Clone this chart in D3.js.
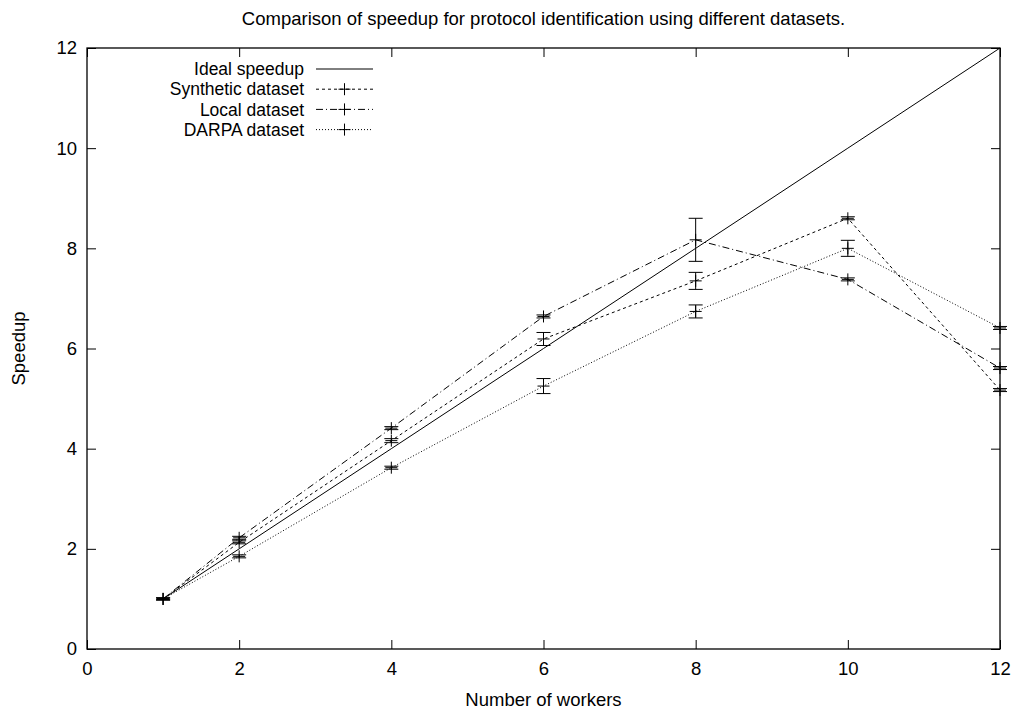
<!DOCTYPE html>
<html>
<head>
<meta charset="utf-8">
<script src="https://cdn.jsdelivr.net/npm/d3@7"></script>
<style>
  body { margin: 0; background: #fff; }
  svg text { font-family: "Liberation Sans", Arial, sans-serif; fill: #000; }
</style>
</head>
<body>
<div id="chart"></div>
<script>
// Values
const workers = [1, 2, 4, 6, 8, 10, 12]
const ideal = [1, 2, 4, 6, 8, 10, 12]
const synthetic = [1.0, 2.13, 4.16, 6.19, 7.35, 8.6, 5.17]
const syntheticErr = [0.02, 0.03, 0.04, 0.13, 0.17, 0.03, 0.03]
const local = [1.0, 2.22, 4.41, 6.64, 8.17, 7.38, 5.61]
const localErr = [0.02, 0.03, 0.03, 0.03, 0.43, 0.03, 0.03]
const darpa = [1.0, 1.85, 3.62, 5.25, 6.74, 8.0, 6.41]
const darpaErr = [0.02, 0.03, 0.03, 0.15, 0.13, 0.16, 0.03]
const xTicks = [0, 2, 4, 6, 8, 10, 12]
const yTicks = [0, 2, 4, 6, 8, 10, 12]

const width = 1016
const height = 711
const margin = { top: 48, right: 15, bottom: 62, left: 87 }
const fontSize = '18.5px'

const svg = d3.select('#chart').append('svg')
  .attr('width', width)
  .attr('height', height)

const x = d3.scaleLinear().domain([0, 12]).range([margin.left, width - margin.right - 1])
const y = d3.scaleLinear().domain([0, 12]).range([height - margin.bottom, margin.top])

const series = [
  { name: 'Ideal speedup', values: ideal, err: null, dash: null },
  { name: 'Synthetic dataset', values: synthetic, err: syntheticErr, dash: '3,3' },
  { name: 'Local dataset', values: local, err: localErr, dash: '7,3,1,3' },
  { name: 'DARPA dataset', values: darpa, err: darpaErr, dash: '1,2' }
]

// Axes with inward ticks (mirrored on top and right)
const tick = 9
svg.append('g')
  .attr('transform', `translate(0,${y(0)})`)
  .call(d3.axisBottom(x).tickValues(xTicks).tickSize(-tick).tickPadding(13))
  .call(g => g.select('.domain').remove())
svg.append('g')
  .attr('transform', `translate(0,${y(12)})`)
  .call(d3.axisTop(x).tickValues(xTicks).tickSize(-tick).tickFormat(''))
  .call(g => g.select('.domain').remove())
svg.append('g')
  .attr('transform', `translate(${x(0)},0)`)
  .call(d3.axisLeft(y).tickValues(yTicks).tickSize(-tick).tickPadding(10))
  .call(g => g.select('.domain').remove())
svg.append('g')
  .attr('transform', `translate(${x(12)},0)`)
  .call(d3.axisRight(y).tickValues(yTicks).tickSize(-tick).tickFormat(''))
  .call(g => g.select('.domain').remove())

svg.selectAll('.tick line').attr('stroke', '#000')
svg.selectAll('.tick text').style('font-size', fontSize)

svg.append('rect')
  .attr('x', x(0)).attr('y', y(12))
  .attr('width', x(12) - x(0)).attr('height', y(0) - y(12))
  .attr('fill', 'none').attr('stroke', '#000').attr('stroke-width', 1.3)

// Lines, error bars and point markers
const line = d3.line()
  .x(d => x(d[0]))
  .y(d => y(d[1]))

const cap = 7
const mark = 6

series.forEach(s => {
  const pts = workers.map((w, i) => [w, s.values[i], s.err ? s.err[i] : 0])
  svg.append('path')
    .attr('d', line(pts))
    .attr('fill', 'none')
    .attr('stroke', '#000')
    .attr('stroke-width', 1)
    .attr('stroke-dasharray', s.dash)

  if (!s.err) return

  const g = svg.append('g').attr('stroke', '#000').attr('stroke-width', 1)
  pts.forEach(p => {
    const cx = x(p[0])
    g.append('line').attr('x1', cx).attr('x2', cx).attr('y1', y(p[1] - p[2])).attr('y2', y(p[1] + p[2]))
    g.append('line').attr('x1', cx - cap).attr('x2', cx + cap).attr('y1', y(p[1] - p[2])).attr('y2', y(p[1] - p[2]))
    g.append('line').attr('x1', cx - cap).attr('x2', cx + cap).attr('y1', y(p[1] + p[2])).attr('y2', y(p[1] + p[2]))
    // "+" marker
    g.append('line').attr('x1', cx - mark).attr('x2', cx + mark).attr('y1', y(p[1])).attr('y2', y(p[1]))
    g.append('line').attr('x1', cx).attr('x2', cx).attr('y1', y(p[1]) - mark).attr('y2', y(p[1]) + mark)
  })
})

// Legend (row pitch kept just above the text height so rows don't collide)
const legend = svg.append('g')
series.forEach((s, i) => {
  const ly = 69 + i * 20.2
  legend.append('text')
    .attr('x', 304).attr('y', ly)
    .attr('dy', '0.35em')
    .attr('text-anchor', 'end')
    .style('font-size', '17.5px')
    .text(s.name)
  legend.append('line')
    .attr('x1', 316).attr('x2', 373).attr('y1', ly).attr('y2', ly)
    .attr('stroke', '#000').attr('stroke-width', 1)
    .attr('stroke-dasharray', s.dash)
  if (s.err) {
    legend.append('line')
      .attr('x1', 344.5 - mark).attr('x2', 344.5 + mark).attr('y1', ly).attr('y2', ly)
      .attr('stroke', '#000')
    legend.append('line')
      .attr('x1', 344.5).attr('x2', 344.5).attr('y1', ly - mark).attr('y2', ly + mark)
      .attr('stroke', '#000')
  }
})

// Titles
svg.append('text')
  .attr('x', (x(0) + x(12)) / 2).attr('y', 25)
  .attr('text-anchor', 'middle')
  .style('font-size', fontSize)
  .text('Comparison of speedup for protocol identification using different datasets.')

svg.append('text')
  .attr('x', (x(0) + x(12)) / 2).attr('y', 706)
  .attr('text-anchor', 'middle')
  .style('font-size', fontSize)
  .text('Number of workers')

svg.append('text')
  .attr('transform', `translate(25,${(y(0) + y(12)) / 2}) rotate(-90)`)
  .attr('text-anchor', 'middle')
  .style('font-size', fontSize)
  .text('Speedup')
</script>
</body>
</html>
